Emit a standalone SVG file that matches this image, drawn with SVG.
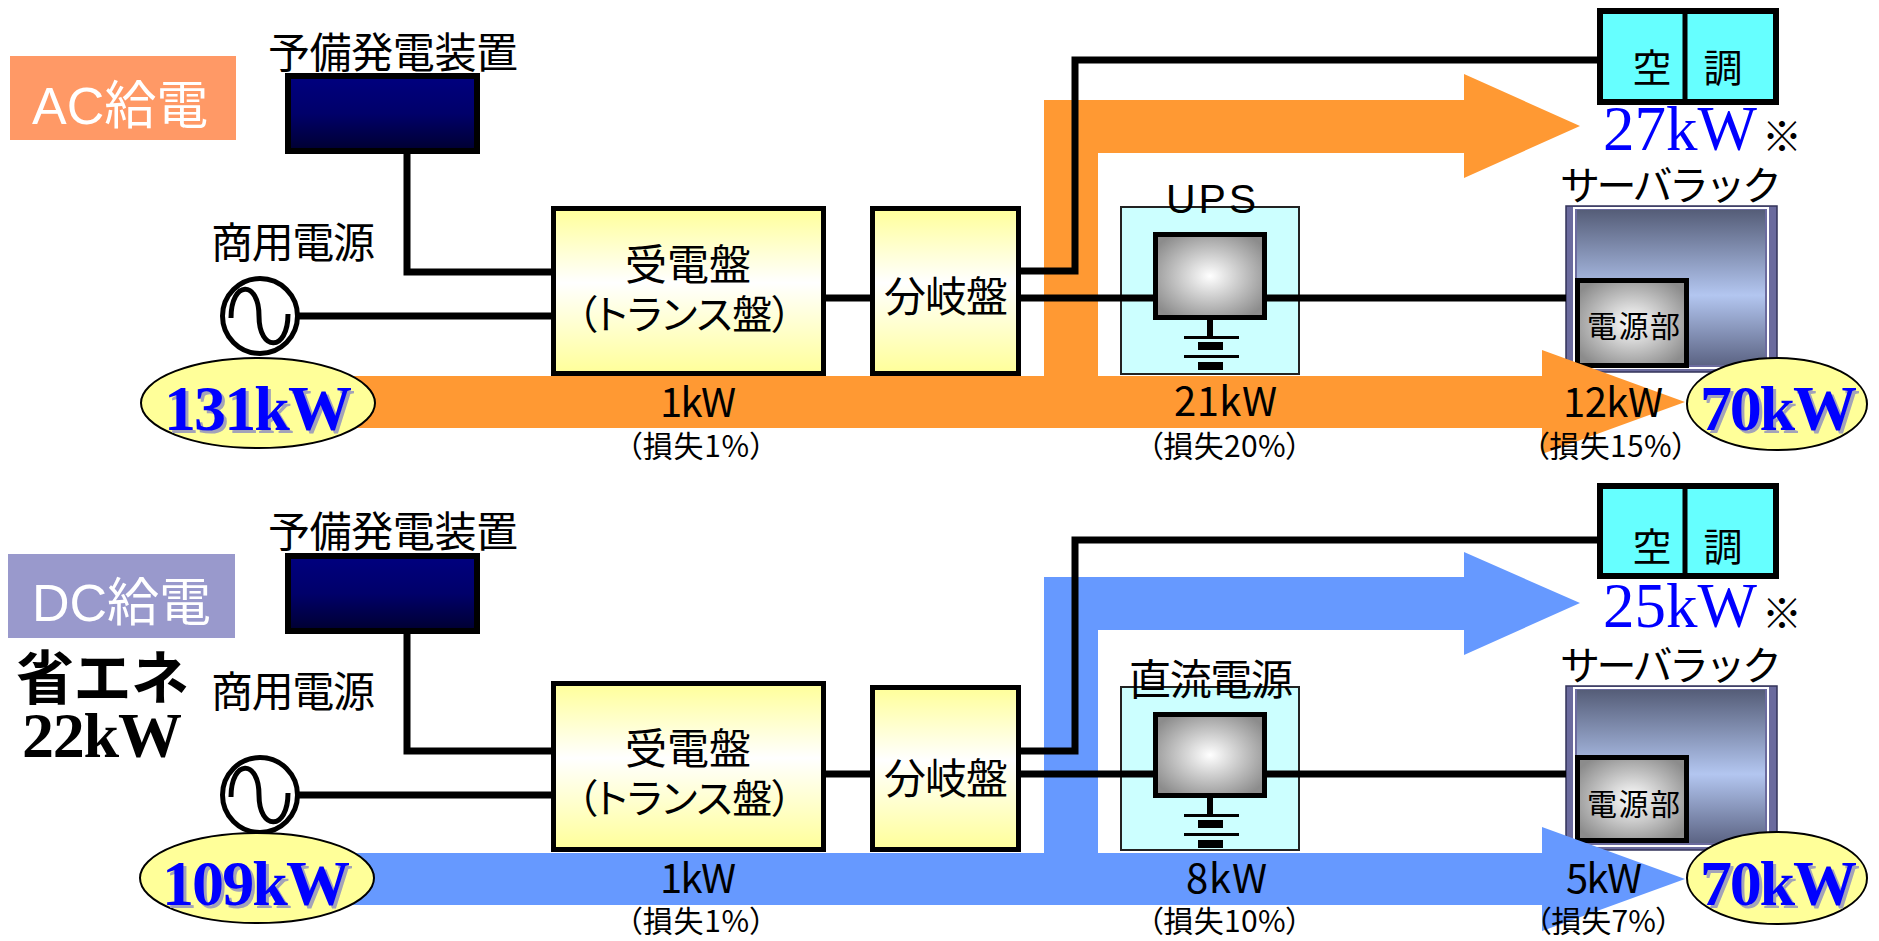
<svg xmlns="http://www.w3.org/2000/svg" width="1879" height="941" viewBox="0 0 1879 941">
  <defs>
    <linearGradient id="panelFill" x1="0" y1="0" x2="0" y2="1">
      <stop offset="0" stop-color="#FFFF99"/>
      <stop offset="0.45" stop-color="#FFFFFF"/>
      <stop offset="1" stop-color="#FFFF99"/>
    </linearGradient>
    <linearGradient id="genFill" x1="0" y1="0" x2="0" y2="1">
      <stop offset="0" stop-color="#00007F"/>
      <stop offset="0.5" stop-color="#00006A"/>
      <stop offset="1" stop-color="#000030"/>
    </linearGradient>
    <radialGradient id="metalFill" cx="0.5" cy="0.5" r="0.6">
      <stop offset="0" stop-color="#FFFFFF"/>
      <stop offset="1" stop-color="#8C8C8C"/>
    </radialGradient>
    <linearGradient id="rackFill" x1="0" y1="0" x2="0" y2="1">
      <stop offset="0" stop-color="#555D78"/>
      <stop offset="0.55" stop-color="#B3C6F0"/>
      <stop offset="1" stop-color="#5C6484"/>
    </linearGradient>
    <g id="battery">
      <rect x="1207" y="0" width="6" height="17" fill="#000"/>
      <rect x="1184" y="16" width="55" height="3" fill="#000"/>
      <rect x="1198" y="22" width="25" height="8" fill="#000"/>
      <rect x="1184" y="35" width="55" height="3" fill="#000"/>
      <rect x="1198" y="42" width="25" height="8" fill="#000"/>
    </g>
  </defs>
  <style>
    .jp { font-family: "Noto Sans CJK JP", "Noto Sans", sans-serif; fill: #000; }
    .pp { font-feature-settings: "palt"; }
    .lat { font-family: "Liberation Sans", Arial, sans-serif; }
    .tag { font-family: "Noto Sans CJK JP", "Noto Sans", sans-serif; fill: #FFFFFF; font-size: 52px; }
    .kw { font-family: "Liberation Serif", "Times New Roman", serif; font-weight: bold; font-size: 64px; fill: #0000FF; }
    .kw-sh { font-family: "Liberation Serif", "Times New Roman", serif; font-weight: bold; font-size: 64px; fill: #A3A3B8; }
    .ac-kw { font-family: "Liberation Serif", "Times New Roman", serif; font-size: 63px; fill: #0000FF; }
    .loss { font-size: 30px; }
    .note { font-size: 40px; }
    .wire { fill: none; stroke: #000; stroke-width: 7; }
    .panel { fill: url(#panelFill); stroke: #000; stroke-width: 5; }
    .gen { fill: url(#genFill); stroke: #000; stroke-width: 6; }
    .frame { fill: #CCFFFF; stroke: #222; stroke-width: 2; }
    .unit { fill: url(#metalFill); stroke: #000; stroke-width: 5; }
    .hvac { fill: #66FFFF; stroke: #000; stroke-width: 6; }
    .oval { fill: #FFFF99; stroke: #000; stroke-width: 2; }
    .src { fill: #FFFFFF; stroke: #000; stroke-width: 5; }
    .wave { fill: none; stroke: #000; stroke-width: 5; }
  </style>

  <rect width="1879" height="941" fill="#FFFFFF"/>

  <!-- section tags -->
  <g id="tag-ac">
    <rect x="10" y="56" width="226" height="84" fill="#FF9966"/>
    <text class="tag" x="32" y="124"><tspan class="lat">AC</tspan>給電</text>
  </g>
  <g id="tag-dc">
    <rect x="8" y="554" width="227" height="84" fill="#9999CC"/>
    <text class="tag" x="32" y="621"><tspan class="lat">DC</tspan>給電</text>
    <text class="jp" x="16" y="699" font-size="58" font-weight="bold" textLength="173">省エネ</text>
    <text x="22" y="757" font-family="Liberation Serif, Times New Roman, serif" font-weight="bold" font-size="64" textLength="160">22kW</text>
  </g>

  <!-- server racks (drawn under the flow arrows) -->
  <g id="rack-ac">
    <rect x="1566" y="206" width="211" height="166" fill="#6B6B9E" stroke="#33335A" stroke-width="1.5"/>
    <rect x="1574" y="208" width="194" height="160" fill="none" stroke="#FFFFFF" stroke-width="2"/>
    <rect x="1577" y="210" width="188" height="155" fill="url(#rackFill)"/>
    <rect class="unit" x="1577.5" y="280.5" width="109" height="85"/>
    <text class="jp" x="1587" y="337" font-size="30" fill="#222" textLength="93">電源部</text>
  </g>
  <g id="rack-dc">
    <rect x="1566" y="686" width="211" height="164" fill="#6B6B9E" stroke="#33335A" stroke-width="1.5"/>
    <rect x="1574" y="688" width="194" height="158" fill="none" stroke="#FFFFFF" stroke-width="2"/>
    <rect x="1577" y="690" width="188" height="153" fill="url(#rackFill)"/>
    <rect class="unit" x="1577.5" y="757.5" width="109" height="83"/>
    <text class="jp" x="1587" y="815" font-size="30" fill="#222" textLength="93">電源部</text>
  </g>

  <!-- converter enclosures -->
  <g id="ups-frame">
    <rect class="frame" x="1121" y="207" width="178" height="167"/>
  </g>
  <g id="dcps-frame">
    <rect class="frame" x="1121" y="687" width="178" height="163"/>
  </g>

  <!-- power flow arrows -->
  <g id="flows">
    <path fill="#FF9933" d="M200,376 H1044 V100 H1464 V74 L1580,126 L1464,178 V153 H1098 V376 H1542 V350 L1685,402 L1542,454 V428 H200 Z"/>
    <path fill="#6699FF" d="M200,853 H1044 V577 H1464 V552 L1580,603 L1464,655 V630 H1098 V853 H1542 V827 L1685,879 L1542,931 V905 H200 Z"/>
  </g>

  <!-- wiring -->
  <g id="connectors">
    <path class="wire" d="M407,154 V272 H551"/>
    <path class="wire" d="M298,316 H551"/>
    <path class="wire" d="M826,298 H870"/>
    <path class="wire" d="M1021,271 H1075 V60 H1597"/>
    <path class="wire" d="M1021,298 H1566"/>
    <path class="wire" d="M407,634 V751 H551"/>
    <path class="wire" d="M298,795 H551"/>
    <path class="wire" d="M826,774 H870"/>
    <path class="wire" d="M1021,751 H1075 V540 H1597"/>
    <path class="wire" d="M1021,774 H1566"/>
  </g>

  <!-- AC system -->
  <g id="gen-ac">
    <text class="jp" x="268" y="68" font-size="42" textLength="250">予備発電装置</text>
    <rect class="gen" x="288" y="76" width="189" height="75"/>
  </g>
  <g id="grid-ac">
    <text class="jp" x="211" y="258" font-size="42" textLength="164">商用電源</text>
    <circle class="src" cx="260" cy="316" r="37.5"/>
    <path class="wave" d="M231,318 C231,280 259,280 259,316 C259,352 288,352 288,314"/>
  </g>
  <g id="input-ac">
    <ellipse class="oval" cx="258" cy="403" rx="117" ry="45"/>
    <text class="kw-sh" x="167" y="433" textLength="188">131kW</text>
    <text class="kw" x="164" y="430" textLength="188">131kW</text>
  </g>
  <g id="recv-ac">
    <rect class="panel" x="553.5" y="208.5" width="270" height="165"/>
    <text class="jp" x="688" y="280" font-size="42" text-anchor="middle">受電盤</text>
    <text class="jp pp" x="577" y="329" font-size="40" textLength="215">（トランス盤）</text>
  </g>
  <g id="dist-ac">
    <rect class="panel" x="872.5" y="208.5" width="146" height="165"/>
    <text class="jp" x="884" y="312" font-size="42" textLength="124">分岐盤</text>
  </g>
  <g id="ups-ac">
    <text class="lat" x="1166" y="213" font-size="41" textLength="90">UPS</text>
    <rect class="unit" x="1155.5" y="234.5" width="109" height="83"/>
    <use href="#battery" y="320"/>
  </g>
  <g id="hvac-ac">
    <rect class="hvac" x="1600" y="11" width="176" height="91"/>
    <line x1="1685" y1="11" x2="1685" y2="102" stroke="#000" stroke-width="5"/>
    <text class="jp" x="1652" y="82" font-size="39" text-anchor="middle">空</text>
    <text class="jp" x="1723" y="82" font-size="39" text-anchor="middle">調</text>
    <text class="ac-kw" x="1603" y="150" textLength="154">27kW</text>
    <text class="jp note" x="1762" y="151">※</text>
  </g>
  <g id="rack-ac-label">
    <text class="jp" x="1560" y="200" font-size="40" textLength="222">サーバラック</text>
  </g>
  <g id="output-ac">
    <ellipse class="oval" cx="1777" cy="404" rx="90" ry="46"/>
    <text class="kw-sh" x="1703" y="433" textLength="157">70kW</text>
    <text class="kw" x="1700" y="430" textLength="157">70kW</text>
  </g>
  <g id="loss-ac">
    <text class="jp" x="660" y="417" font-size="40" textLength="76">1kW</text>
    <text class="jp pp loss" x="627" y="457" textLength="138">（損失1%）</text>
    <text class="jp" x="1174" y="416" font-size="40" textLength="103">21kW</text>
    <text class="jp pp loss" x="1148" y="457" textLength="153">（損失20%）</text>
    <text class="jp" x="1563" y="417" font-size="40" textLength="100">12kW</text>
    <text class="jp pp loss" x="1534" y="457" textLength="153">（損失15%）</text>
  </g>

  <!-- DC system -->
  <g id="gen-dc">
    <text class="jp" x="268" y="547" font-size="42" textLength="250">予備発電装置</text>
    <rect class="gen" x="288" y="556" width="189" height="75"/>
  </g>
  <g id="grid-dc">
    <text class="jp" x="211" y="707" font-size="42" textLength="164">商用電源</text>
    <circle class="src" cx="260" cy="795" r="37.5"/>
    <path class="wave" d="M231,797 C231,759 259,759 259,795 C259,831 288,831 288,793"/>
  </g>
  <g id="input-dc">
    <ellipse class="oval" cx="257" cy="878" rx="117" ry="45"/>
    <text class="kw-sh" x="165" y="908" textLength="188">109kW</text>
    <text class="kw" x="162" y="905" textLength="188">109kW</text>
  </g>
  <g id="recv-dc">
    <rect class="panel" x="553.5" y="683.5" width="270" height="166"/>
    <text class="jp" x="688" y="764" font-size="42" text-anchor="middle">受電盤</text>
    <text class="jp pp" x="577" y="813" font-size="40" textLength="215">（トランス盤）</text>
  </g>
  <g id="dist-dc">
    <rect class="panel" x="872.5" y="687.5" width="146" height="162"/>
    <text class="jp" x="884" y="794" font-size="42" textLength="124">分岐盤</text>
  </g>
  <g id="dcps-dc">
    <text class="jp" x="1129" y="695" font-size="42" textLength="164">直流電源</text>
    <rect class="unit" x="1155.5" y="714.5" width="109" height="81"/>
    <use href="#battery" y="798"/>
  </g>
  <g id="hvac-dc">
    <rect class="hvac" x="1600" y="486" width="176" height="90"/>
    <line x1="1685" y1="486" x2="1685" y2="576" stroke="#000" stroke-width="5"/>
    <text class="jp" x="1652" y="561" font-size="39" text-anchor="middle">空</text>
    <text class="jp" x="1723" y="561" font-size="39" text-anchor="middle">調</text>
    <text class="ac-kw" x="1603" y="627" textLength="154">25kW</text>
    <text class="jp note" x="1762" y="628">※</text>
  </g>
  <g id="rack-dc-label">
    <text class="jp" x="1560" y="680" font-size="40" textLength="222">サーバラック</text>
  </g>
  <g id="output-dc">
    <ellipse class="oval" cx="1777" cy="878" rx="90" ry="46"/>
    <text class="kw-sh" x="1703" y="908" textLength="157">70kW</text>
    <text class="kw" x="1700" y="905" textLength="157">70kW</text>
  </g>
  <g id="loss-dc">
    <text class="jp" x="660" y="893" font-size="40" textLength="76">1kW</text>
    <text class="jp pp loss" x="627" y="932" textLength="138">（損失1%）</text>
    <text class="jp" x="1186" y="893" font-size="40" textLength="81">8kW</text>
    <text class="jp pp loss" x="1148" y="932" textLength="153">（損失10%）</text>
    <text class="jp" x="1566" y="893" font-size="40" textLength="76">5kW</text>
    <text class="jp pp loss" x="1536" y="932" textLength="135">（損失7%）</text>
  </g>
</svg>
